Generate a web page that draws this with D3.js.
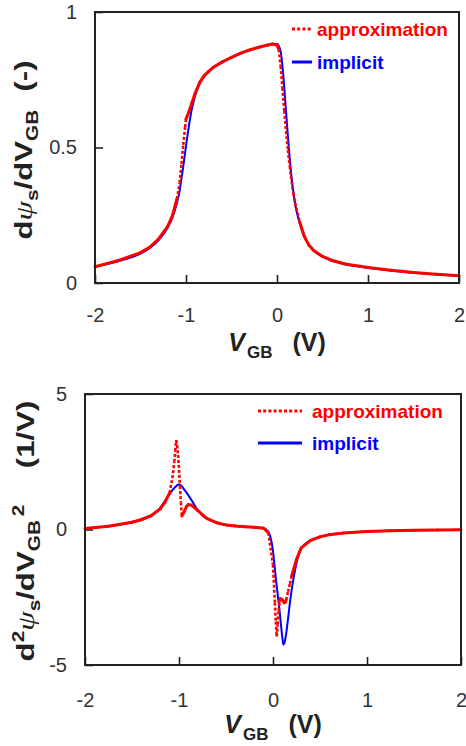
<!DOCTYPE html>
<html>
<head>
<meta charset="utf-8">
<script src="https://cdn.jsdelivr.net/npm/d3@7"></script>
<style>
  body { margin: 0; background: #fff; }
  svg { display: block; font-family: "Liberation Sans", Arial, sans-serif; }
</style>
</head>
<body>
<div id="chart"></div>
<script>
// ---- data ----
const xTicks = [-2, -1, 0, 1, 2];
const yTicksTop = [0, 0.5, 1];
const yTicksBottom = [-5, 0, 5];
const seriesNames = ["approximation", "implicit"];

// first derivative dpsi_s/dV_GB
const vgbTop = [-2, -1.75, -1.5, -1.4, -1.3, -1.2, -1.15, -1.1, -1.07, -1.05, -1.03, -1.01, -1.0, -0.97, -0.94, -0.9, -0.85, -0.8, -0.75, -0.7, -0.6, -0.5, -0.4, -0.3, -0.2, -0.1, -0.05, 0, 0.02, 0.04, 0.06, 0.08, 0.1, 0.12, 0.14, 0.16, 0.18, 0.2, 0.25, 0.3, 0.35, 0.4, 0.5, 0.6, 0.75, 1.0, 1.25, 1.5, 1.75, 2.0];
const implicitTop = [0.060, 0.080, 0.108, 0.128, 0.158, 0.205, 0.240, 0.295, 0.340, 0.385, 0.430, 0.480, 0.505, 0.575, 0.635, 0.690, 0.735, 0.762, 0.780, 0.795, 0.815, 0.832, 0.847, 0.860, 0.870, 0.878, 0.882, 0.882, 0.875, 0.855, 0.800, 0.720, 0.630, 0.540, 0.460, 0.390, 0.335, 0.290, 0.220, 0.170, 0.140, 0.120, 0.097, 0.083, 0.069, 0.056, 0.046, 0.038, 0.032, 0.027];
const approxTop = [0.060, 0.082, 0.112, 0.132, 0.163, 0.210, 0.248, 0.310, 0.370, 0.440, 0.510, 0.575, 0.605, 0.630, 0.660, 0.700, 0.740, 0.765, 0.781, 0.796, 0.816, 0.833, 0.848, 0.860, 0.870, 0.878, 0.882, 0.878, 0.862, 0.800, 0.720, 0.635, 0.560, 0.490, 0.430, 0.375, 0.330, 0.295, 0.225, 0.172, 0.140, 0.121, 0.098, 0.084, 0.070, 0.057, 0.047, 0.039, 0.032, 0.027];

// second derivative d2psi_s/dV_GB2
const vgbBottom = [-2, -1.75, -1.5, -1.4, -1.3, -1.2, -1.15, -1.1, -1.07, -1.05, -1.04, -1.03, -1.02, -1.01, -1.0, -0.99, -0.98, -0.97, -0.95, -0.92, -0.9, -0.87, -0.85, -0.8, -0.75, -0.7, -0.6, -0.5, -0.4, -0.3, -0.2, -0.1, -0.05, 0, 0.02, 0.03, 0.04, 0.05, 0.06, 0.07, 0.08, 0.1, 0.11, 0.12, 0.13, 0.14, 0.16, 0.18, 0.2, 0.25, 0.3, 0.4, 0.5, 0.6, 0.75, 1.0, 1.25, 1.5, 1.75, 2.0];
const implicitBottom = [0.04, 0.12, 0.28, 0.38, 0.52, 0.80, 1.05, 1.30, 1.45, 1.53, 1.57, 1.60, 1.63, 1.65, 1.66, 1.65, 1.63, 1.60, 1.50, 1.36, 1.26, 1.10, 0.99, 0.72, 0.52, 0.40, 0.25, 0.17, 0.13, 0.10, 0.08, 0.05, -0.08, -0.80, -1.45, -1.80, -2.10, -2.40, -2.70, -3.00, -3.35, -4.00, -4.24, -4.20, -4.05, -3.85, -3.30, -2.70, -2.20, -1.25, -0.70, -0.40, -0.27, -0.19, -0.13, -0.07, -0.045, -0.03, -0.02, -0.01];
const approxBottom = [0.04, 0.12, 0.27, 0.36, 0.50, 0.76, 1.00, 1.35, 1.90, 2.50, 2.90, 3.30, 3.10, 2.75, 2.20, 1.60, 1.00, 0.50, 0.62, 0.85, 0.92, 0.90, 0.85, 0.70, 0.54, 0.40, 0.25, 0.17, 0.13, 0.10, 0.08, 0.05, -0.12, -1.30, -2.70, -3.40, -3.95, -3.50, -3.00, -2.65, -2.55, -2.60, -2.65, -2.70, -2.68, -2.60, -2.30, -2.00, -1.70, -1.10, -0.68, -0.40, -0.27, -0.19, -0.13, -0.07, -0.045, -0.03, -0.02, -0.01];

const width = 466;
const height = 746;
const RED = "#ff0000";
const BLUE = "#0000ff";
const INK = "#222";

const svg = d3.select("#chart")
  .append("svg")
  .attr("width", width)
  .attr("height", height);

svg.append("rect").attr("width", width).attr("height", height).attr("fill", "#fff");

function drawPanel(p) {
  const x = d3.scaleLinear().domain([-2, 2]).range([p.left, p.right]);
  const y = d3.scaleLinear().domain(p.yDomain).range([p.bottom, p.top]);
  const fmt = (d) => String(d); // plain hyphen minus, "0.5" not "0.50"

  // axes, ticks pointing inward
  const gx = svg.append("g")
    .attr("transform", `translate(0,${p.bottom})`)
    .call(d3.axisBottom(x).tickValues(xTicks).tickSize(-8).tickPadding(p.xPad).tickFormat(fmt));
  gx.select(".domain").remove();

  const gy = svg.append("g")
    .attr("transform", `translate(${p.left},0)`)
    .call(d3.axisLeft(y).tickValues(p.yTicks).tickSize(-8).tickPadding(18).tickFormat(fmt));
  gy.select(".domain").remove();

  svg.selectAll(".tick line").attr("stroke", INK).attr("stroke-width", 1.6);
  svg.selectAll(".tick text")
    .attr("fill", "#333")
    .style("font-size", "20px")
    .style("font-family", "'Liberation Sans', Arial, sans-serif");

  // implicit (blue, solid)
  const line = d3.line().x((d) => x(d[0])).y((d) => y(d[1])).curve(d3.curveMonotoneX);
  svg.append("path")
    .datum(p.xs.map((v, i) => [v, p.implicit[i]]))
    .attr("fill", "none")
    .attr("stroke", BLUE)
    .attr("stroke-width", 2)
    .attr("d", line);

  // approximation (red, dotted) - the dash only shows on the steep stretches,
  // the dense flat stretches read as solid
  const segLine = d3.line().x((d) => x(d[0])).y((d) => y(d[1]));
  const pairs = d3.pairs(p.xs.map((v, i) => [v, p.approx[i]]));
  svg.append("g")
    .selectAll("path")
    .data(pairs)
    .join("path")
    .attr("fill", "none")
    .attr("stroke", RED)
    .each(function (d) {
      const dx = Math.abs(x(d[1][0]) - x(d[0][0]));
      const dy = Math.abs(y(d[1][1]) - y(d[0][1]));
      const steep = dy > 4 * dx;
      d3.select(this)
        .attr("stroke-width", steep ? 2.6 : 3)
        .attr("stroke-linecap", steep ? "butt" : "round")
        .attr("stroke-dasharray", steep ? "3,2" : null);
    })
    .attr("d", segLine);

  // frame
  svg.append("rect")
    .attr("x", p.left)
    .attr("y", p.top)
    .attr("width", p.right - p.left)
    .attr("height", p.bottom - p.top)
    .attr("fill", "none")
    .attr("stroke", INK)
    .attr("stroke-width", 2);

  // legend
  const lg = svg.append("g");
  seriesNames.forEach((name, i) => {
    const ly = p.legend.y + i * p.legend.gap;
    lg.append("line")
      .attr("x1", p.legend.x1).attr("x2", p.legend.x2)
      .attr("y1", ly).attr("y2", ly)
      .attr("stroke", i === 0 ? RED : BLUE)
      .attr("stroke-width", 3)
      .attr("stroke-dasharray", i === 0 ? "3,2.2" : null);
    lg.append("text")
      .attr("x", p.legend.tx)
      .attr("y", ly + 6.5)
      .attr("fill", i === 0 ? RED : BLUE)
      .style("font-size", "19px")
      .style("font-weight", "bold")
      .text(name);
  });

  // x title
  const xt = svg.append("text")
    .attr("x", (p.left + p.right) / 2)
    .attr("y", p.xTitleY)
    .attr("text-anchor", "middle")
    .attr("fill", INK)
    .style("font-weight", "bold");
  xt.append("tspan").text("V").style("font-size", "25px").style("font-style", "italic");
  xt.append("tspan").text("GB").attr("dx", 2).attr("dy", 7).style("font-size", "17px");
  xt.append("tspan").text("(V)").attr("dx", 20).attr("dy", -7).style("font-size", "25px");

  // y title (rotated, stretched along its length like the original)
  const yt = svg.append("text")
    .attr("transform", `translate(${p.yTitleX},${p.yTitleY}) rotate(-90) scale(1.3,1)`)
    .attr("text-anchor", "middle")
    .attr("fill", INK)
    .style("font-weight", "bold")
    .style("font-size", "24px");
  p.yTitle(yt);
}

drawPanel({
  left: 95, right: 459, top: 12, bottom: 283,
  yDomain: [0, 1], yTicks: yTicksTop,
  xs: vgbTop, implicit: implicitTop, approx: approxTop,
  xPad: 25, xTitleY: 351,
  yTitleX: 32, yTitleY: 150,
  legend: { x1: 292, x2: 312, tx: 317, y: 29, gap: 33 },
  yTitle: (t) => {
    t.append("tspan").text("d");
    t.append("tspan").text("ψ").style("font-family", "'Liberation Serif', serif").style("font-style", "italic").style("font-weight", "normal");
    t.append("tspan").text("s").attr("dy", 6).style("font-size", "16px");
    t.append("tspan").text("/dV").attr("dy", -6);
    t.append("tspan").text("GB").attr("dy", 6).style("font-size", "16px");
    t.append("tspan").text("(-)").attr("dx", 14).attr("dy", -6);
  },
});

drawPanel({
  left: 85, right: 461, top: 394, bottom: 665,
  yDomain: [-5, 5], yTicks: yTicksBottom,
  xs: vgbBottom, implicit: implicitBottom, approx: approxBottom,
  xPad: 28, xTitleY: 733,
  yTitleX: 34, yTitleY: 531,
  legend: { x1: 258, x2: 302, tx: 312, y: 411, gap: 32 },
  yTitle: (t) => {
    t.append("tspan").text("d");
    t.append("tspan").text("2").attr("dy", -10).style("font-size", "16px");
    t.append("tspan").text("ψ").attr("dy", 10).style("font-family", "'Liberation Serif', serif").style("font-style", "italic").style("font-weight", "normal");
    t.append("tspan").text("s").attr("dy", 6).style("font-size", "16px");
    t.append("tspan").text("/dV").attr("dy", -6);
    t.append("tspan").text("GB").attr("dy", 6).style("font-size", "16px");
    t.append("tspan").text("2").attr("dx", 3).attr("dy", -16).style("font-size", "16px");
    t.append("tspan").text("(1/V)").attr("dx", 28).attr("dy", 10);
  },
});
</script>
</body>
</html>
